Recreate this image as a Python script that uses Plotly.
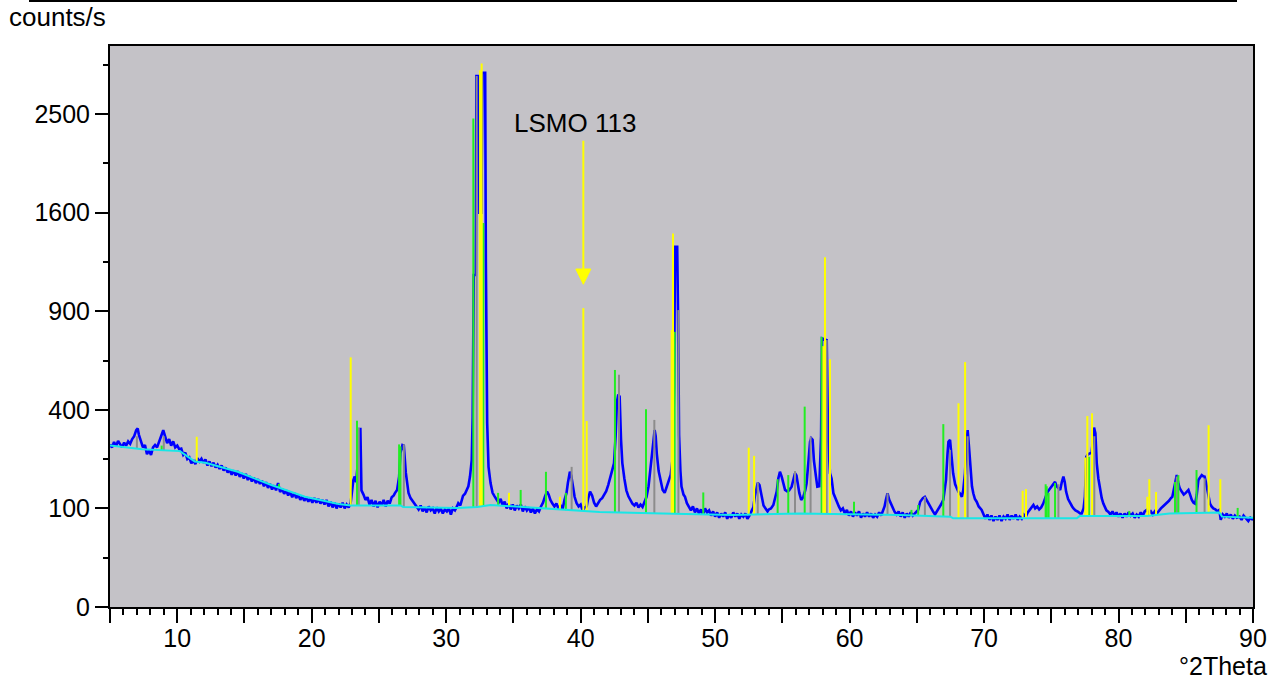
import numpy as np
import plotly.graph_objects as go

# ---------------- data (2Theta in degrees, intensity in counts/s) ----------------
meas_tth = [5.0,5.15,5.3,5.45,5.6,5.75,5.9,6.05,6.2,6.35,6.5,6.65,6.8,6.95,7.06,7.15,7.3,7.45,7.6,7.75,7.9,8.05,8.2,8.35,8.5,8.65,8.8,8.96,9.1,9.25,9.4,9.55,9.7,9.85,
    10.0,10.15,10.3,10.45,10.6,10.75,10.9,11.05,11.2,11.35,11.5,11.65,11.8,11.95,12.1,12.25,12.4,12.55,12.7,12.85,13.0,13.15,13.3,13.45,13.6,13.75,13.9,14.05,14.2,14.35,14.5,14.65,14.8,14.95,
    15.1,15.25,15.4,15.55,15.7,15.85,16.0,16.15,16.3,16.45,16.6,16.75,16.9,17.05,17.2,17.35,17.5,17.65,17.8,17.95,18.1,18.25,18.4,18.55,18.7,18.85,19.0,19.15,19.3,19.45,19.6,19.75,19.9,
    20.05,20.2,20.35,20.5,20.65,20.8,20.95,21.1,21.25,21.4,21.55,21.7,21.85,22.0,22.15,22.3,22.45,22.6,22.75,22.9,23.0,23.1,23.2,23.3,23.4,23.5,23.62,23.7,23.85,24.0,24.15,24.3,24.45,24.6,24.75,24.9,
    25.05,25.2,25.35,25.5,25.65,25.8,25.95,26.1,26.2,26.35,26.5,26.6,26.75,26.85,27.0,27.1,27.2,27.35,27.5,27.65,27.8,27.95,28.1,28.25,28.4,28.55,28.7,28.85,29.0,29.15,29.3,29.45,29.6,29.75,29.9,
    30.05,30.2,30.35,30.5,30.65,30.8,30.9,31.05,31.25,31.4,31.5,31.65,31.77,31.9,31.97,32.05,32.2,32.25,32.42,32.47,32.62,32.7,32.9,32.95,33.05,33.15,33.3,33.45,33.6,33.75,33.9,
    34.05,34.2,34.35,34.5,34.65,34.8,34.95,35.1,35.25,35.4,35.55,35.7,35.85,36.0,36.15,36.3,36.45,36.6,36.75,36.9,37.05,37.2,37.35,37.5,37.62,37.75,37.9,38.05,38.2,38.35,38.5,38.65,38.8,38.95,
    39.05,39.2,39.3,39.4,39.55,39.7,39.85,40.0,40.15,40.3,40.45,40.55,40.7,40.85,41.0,41.15,41.3,41.45,41.6,41.75,41.9,42.05,42.2,42.35,42.48,42.6,42.7,42.8,42.9,43.0,43.1,43.25,43.4,43.55,43.7,43.85,
    44.0,44.15,44.3,44.45,44.6,44.75,44.9,45.05,45.16,45.3,45.4,45.5,45.58,45.66,45.8,45.95,46.1,46.25,46.4,46.53,46.7,46.85,46.95,47.02,47.18,47.24,47.32,47.42,47.5,47.65,47.76,47.9,
    48.05,48.2,48.35,48.5,48.65,48.8,48.95,49.1,49.25,49.4,49.55,49.7,49.85,50.0,50.15,50.3,50.45,50.6,50.75,50.9,51.05,51.2,51.35,51.5,51.65,51.8,51.95,52.1,52.25,52.4,52.55,52.7,52.85,52.95,
    53.05,53.17,53.3,53.45,53.6,53.75,53.9,54.0,54.15,54.33,54.45,54.58,54.7,54.82,54.95,55.05,55.2,55.35,55.5,55.69,55.8,55.94,56.05,56.15,56.26,56.4,56.55,56.7,56.8,56.95,57.06,57.15,57.25,
    57.35,57.43,57.5,57.6,57.75,57.88,57.95,58.3,58.33,58.4,58.54,58.66,58.8,58.9,59.05,59.2,59.35,59.5,59.65,59.8,59.95,60.1,60.25,60.4,60.55,60.7,60.85,61.0,61.15,61.3,61.45,61.6,61.75,61.9,
    62.05,62.2,62.35,62.5,62.6,62.7,62.82,62.95,63.05,63.2,63.35,63.5,63.65,63.8,63.95,64.1,64.25,64.4,64.55,64.7,64.85,65.0,65.1,65.25,65.45,65.6,65.75,65.9,66.05,66.2,66.35,66.5,66.65,66.8,
    66.97,67.08,67.17,67.28,67.35,67.47,67.58,67.7,67.85,67.96,68.1,68.2,68.35,68.45,68.58,68.7,68.78,68.88,69.0,69.1,69.2,69.32,69.45,69.6,69.82,69.95,70.1,70.25,70.4,70.55,70.7,70.85,
    71.0,71.15,71.3,71.45,71.6,71.75,71.9,72.05,72.2,72.35,72.5,72.65,72.8,72.95,73.1,73.25,73.4,73.55,73.67,73.8,73.95,74.1,74.25,74.4,74.55,74.7,74.85,75.03,75.15,75.28,75.4,75.53,75.66,
    75.78,75.9,76.0,76.1,76.25,76.4,76.55,76.65,76.8,77.0,77.15,77.26,77.4,77.5,77.6,77.72,77.88,78.0,78.1,78.18,78.28,78.38,78.5,78.62,78.75,78.87,79.0,79.1,79.25,79.4,79.55,79.7,79.85,
    80.0,80.15,80.3,80.45,80.6,80.75,80.9,81.05,81.2,81.35,81.5,81.65,81.8,81.95,82.1,82.25,82.4,82.55,82.7,82.85,83.0,83.15,83.3,83.45,83.6,83.75,83.9,84.0,84.1,84.2,84.33,84.45,84.55,84.7,
    84.85,85.0,85.1,85.2,85.32,85.45,85.58,85.7,85.82,85.94,86.05,86.19,86.3,86.4,86.5,86.65,86.8,86.92,87.05,87.2,87.35,87.5,87.6,87.75,87.9,88.05,88.2,88.35,88.5,88.65,88.8,89.0,89.15,
    89.3,89.5,89.65,89.8,90.0]
meas_counts = [272,262,280,266,284,270,262,278,268,282,274,290,300,322,328,305,282,262,270,240,252,238,262,270,262,285,300,322,300,276,290,268,282,262,
    268,256,258,238,245,225,230,212,222,210,228,218,226,214,224,206,218,204,214,200,208,196,206,192,200,186,194,180,192,178,190,174,184,170,
    182,166,176,162,172,158,168,156,164,150,160,146,156,142,152,140,158,136,144,132,140,128,136,124,134,122,130,118,126,116,124,114,122,
    112,122,112,120,110,118,108,118,104,114,102,112,100,110,102,112,100,108,102,112,140,166,175,160,200,326,326,140,130,118,124,108,118,104,116,102,
    114,106,118,104,116,110,124,128,134,141,175,244,270,268,185,150,134,122,116,110,104,98,106,94,102,92,104,96,100,90,102,94,100,90,98,
    94,100,88,100,96,104,111,106,127,132,141,150,175,222,372,1134,1134,2900,2900,1600,1600,2937,2937,1226,347,202,158,134,126,118,112,
    120,106,114,100,110,98,108,96,106,100,108,94,104,96,102,92,100,90,98,94,104,112,126,137,130,118,110,104,110,100,106,98,118,134,
    158,188,178,150,125,111,104,108,96,102,104,120,137,128,112,104,112,118,122,129,138,153,175,195,212,300,433,465,455,290,213,170,140,126,116,110,
    106,112,102,108,103,112,125,150,184,240,290,322,300,243,190,166,141,134,149,166,180,230,500,1335,1335,907,304,190,149,130,125,111,
    104,96,104,92,100,90,98,88,100,92,96,86,94,84,92,82,90,84,92,80,88,82,92,84,90,80,88,84,90,80,86,93,103,125,
    141,159,153,125,106,100,94,98,100,107,120,137,170,188,175,158,141,138,140,149,165,184,178,150,134,118,124,140,157,222,281,293,288,
    220,184,175,149,150,300,742,733,546,298,184,170,133,125,111,104,96,100,90,97,86,94,84,92,86,94,82,90,84,92,84,90,82,88,
    84,92,86,95,104,118,133,118,111,100,93,88,94,84,92,82,90,84,92,86,90,94,97,114,122,125,116,110,100,94,88,94,100,108,
    118,140,166,240,281,287,232,184,155,145,136,133,125,140,184,276,322,264,193,150,133,120,114,104,97,88,80,88,78,86,76,84,
    78,86,76,84,80,88,78,86,80,88,78,84,80,88,84,92,98,104,107,100,104,98,102,110,125,135,142,149,155,161,150,145,141,
    160,175,161,137,120,110,104,100,96,93,90,90,100,125,232,240,243,245,290,331,311,212,170,141,122,110,100,96,93,88,94,86,92,
    84,90,82,90,84,92,86,90,82,88,84,92,86,94,97,90,94,88,94,90,96,100,104,108,110,116,122,125,140,161,179,157,145,137,
    130,134,138,141,130,118,112,110,130,166,172,179,176,175,160,130,110,104,100,98,94,97,78,88,84,90,82,88,80,86,82,84,78,
    86,81,76,82,78]

# fitted background
bg_tth = [5, 6.7, 7.4, 10.2, 11.3, 12.1, 14.5, 17.0, 19.5, 22.0, 22.9, 26.6, 26.8, 30.8, 32.3, 33.3, 38.5,
          41.4, 46.1, 51.3, 56.3, 63.7, 67.5, 67.7, 76.9, 77.1, 82.1, 83.8, 87.5, 87.7, 90]
bg_counts = [268, 261, 256, 250, 218, 214, 188, 153, 125, 109, 106, 106, 103, 101, 103, 107, 97,
             93, 90, 87, 90, 87, 84, 81, 81, 85, 85, 90, 92, 84, 82]

# reference pattern sticks (position, intensity top)
green_pos = [8.84, 17.57, 23.37, 26.5, 26.6, 32.02, 32.76, 33.86, 35.54, 37.42, 38.9, 42.55, 44.86, 46.99, 49.12,
             54.65, 55.44, 56.66, 57.92, 60.33, 64.6, 65.1, 66.97, 74.58, 74.66, 74.8, 75.28, 77.8, 80.8,
             84.2, 84.45, 85.8, 88.86]
green_top = [268, 156, 357, 272, 265, 2456, 1516, 134, 141, 188, 134, 578, 402, 779, 135,
             168, 179, 413, 751, 114, 97, 107, 344, 155, 150, 134, 158, 232, 95,
             161, 179, 193, 101]
yellow_pos = [11.45, 22.9, 32.52, 32.64, 34.67, 38.46, 40.2, 40.45, 46.77, 46.87, 52.5, 52.9, 58.05, 58.17, 58.54,
              68.1, 68.59, 72.87, 73.12, 77.53, 77.68, 78.03, 82.14, 82.29, 82.79, 86.7, 87.57]
yellow_top = [298, 641, 2965, 3040, 134, 125, 919, 356, 789, 1436, 261, 235, 700, 1258, 631,
              427, 617, 139, 143, 230, 375, 386, 125, 168, 136, 340, 168]
gray_pos = [7.0, 9.0, 23.5, 26.85, 32.27, 39.33, 42.85, 45.48, 47.27, 53.17, 55.94, 57.1, 58.3, 62.82,
            65.6, 67.47, 68.78, 75.53, 78.2, 84.33, 86.4]
gray_top = [300, 300, 330, 272, 2900, 202, 555, 360, 907, 160, 190, 298, 733, 133,
            125, 254, 300, 155, 300, 175, 170]

y_tick_counts = [0, 100, 400, 900, 1600, 2500]
y_minor_counts = [25, 225, 625, 1225, 2025, 3025]
x_major = list(range(5, 95, 5))
x_label_vals = list(range(10, 100, 10))

# ---------------- figure (square-root intensity axis) ----------------
FONT = "Liberation Sans, Arial, sans-serif"
sq = np.sqrt


def sticks(pos, top):
    base = np.interp(pos, bg_tth, bg_counts)
    xs, ys = [], []
    for p, b, t in zip(pos, base, top):
        xs += [p, p, None]
        ys += [sq(b), sq(t), None]
    return xs, ys


fig = go.Figure()
fig.add_trace(go.Scatter(x=meas_tth, y=sq(np.array(meas_counts, float)), mode="lines",
                         line=dict(color="#0000FF", width=2.6), hoverinfo="skip"))
for pos, top, col in [(gray_pos, gray_top, "#8C8C8C"), (green_pos, green_top, "#22EE22"),
                      (yellow_pos, yellow_top, "#FFFF00")]:
    xs, ys = sticks(pos, top)
    fig.add_trace(go.Scatter(x=xs, y=ys, mode="lines", line=dict(color=col, width=2), hoverinfo="skip"))
fig.add_trace(go.Scatter(x=bg_tth, y=sq(np.array(bg_counts, float)), mode="lines",
                         line=dict(color="#18E6E6", width=2), hoverinfo="skip"))

# arrow pointing to the LSMO 113 reflection
arrow_x = 40.2
s_top, s_head, s_tip = 47.29, 34.28, 32.73
hw = 0.56
fig.add_shape(type="line", x0=arrow_x, x1=arrow_x, y0=s_top, y1=s_head, xref="x", yref="y",
              line=dict(color="#FFFF00", width=2))
fig.add_shape(type="path", xref="x", yref="y",
              path=f"M {arrow_x-hw},{s_head} L {arrow_x+hw},{s_head} L {arrow_x},{s_tip} Z",
              fillcolor="#FFFF00", line=dict(color="#FFFF00", width=1))

fig.add_annotation(x=39.58, y=49.14, xref="x", yref="y", text="LSMO 113", showarrow=False,
                   font=dict(family=FONT, size=26, color="black"), xanchor="center", yanchor="middle")

PW, PH, L, T = 1143, 561, 110, 46
fig.add_annotation(x=(7 - L) / PW, y=(607 - 17) / PH, xref="paper", yref="paper", text="counts/s",
                   showarrow=False, xanchor="left", yanchor="middle",
                   font=dict(family=FONT, size=26, color="black"))
fig.add_annotation(x=(1269 - L) / PW, y=(607 - 666) / PH, xref="paper", yref="paper", text="°2Theta",
                   showarrow=False, xanchor="right", yanchor="middle",
                   font=dict(family=FONT, size=25, color="black"))
fig.add_shape(type="line", xref="paper", yref="paper", x0=(29 - L) / PW, x1=(1237 - L) / PW,
              y0=(607 - 1) / PH, y1=(607 - 1) / PH, line=dict(color="black", width=2))

fig.update_layout(
    width=1280, height=679, margin=dict(l=110, r=27, t=46, b=72),
    paper_bgcolor="white", plot_bgcolor="#C4C2C7", showlegend=False,
    font=dict(family=FONT, size=25, color="black"),
)
fig.update_xaxes(range=[5, 90], showgrid=False, zeroline=False, showline=True, linecolor="black",
                 linewidth=2, mirror=True, ticks="outside", ticklen=14, tickwidth=2, tickcolor="black",
                 tickvals=x_major, ticktext=[str(v) if v in x_label_vals else "" for v in x_major],
                 tickfont=dict(family=FONT, size=25), ticklabelstandoff=-6,
                 minor=dict(dtick=1, tick0=5, ticks="outside", ticklen=6, tickwidth=2, tickcolor="black"))
fig.update_yaxes(range=[0, 56.9], showgrid=False, zeroline=False, showline=True, linecolor="black",
                 linewidth=2, mirror=True, ticks="outside", ticklen=13, tickwidth=2, tickcolor="black",
                 tickvals=[sq(v) for v in y_tick_counts], ticktext=[str(v) for v in y_tick_counts],
                 tickfont=dict(family=FONT, size=25),
                 minor=dict(tickvals=[sq(v) for v in y_minor_counts], ticks="outside", ticklen=5,
                            tickwidth=2, tickcolor="black"))

fig.write_html("out.html")
